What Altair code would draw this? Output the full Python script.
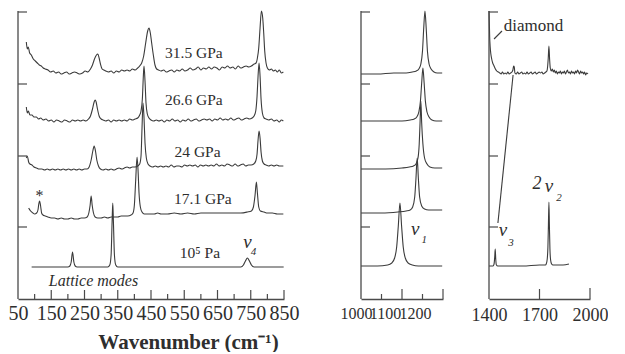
import altair as alt
import pandas as pd

FONT = "Liberation Serif"
INK = "#3b3b3b"
AXC = "#4a4a4a"
TXT = "#2e2e2e"
H = 288  # vertical data units (1 unit = 1 px)

SERIES = ["31.5 GPa", "26.6 GPa", "24 GPa", "17.1 GPa", "1e5 Pa"]
OFFSETS = [226, 178, 131, 84, 32]

# ---------------- panel 1 : 50-850 cm-1 ----------------
W1_A = [75,78,81,85,90,96,102,108,114,120,126,132,140,148,156,164,172,180,188,196,204,212,220,228,236,244,252,260,268,274,280,286,290,294,298,303,308,314,322,330,338,346,354,362,370,378,386,394,402,410,416,422,428,434,440,444,448,452,457,462,467,473,480,488,496,504,512,520,528,536,544,552,560,568,576,584,592,600,608,616,624,632,640,648,656,664,672,680,688,696,704,712,720,728,736,744,752,760,766,770,774,778,782,786,789,792,796,800,806,812,818,824,830,836,842,848]
H1_A = [31,24,26,20,18,14,12,10,8,7,5,4,3,1,2,0,1,-1,0,1,-1,0,1,0,-1,0,2,1,4,8,14,18,19,15,9,4,3,2,1,2,0,2,1,3,2,3,2,4,3,5,7,10,17,30,42,45,40,30,18,8,4,3,2,3,1,2,3,1,3,2,4,2,3,5,3,4,6,3,5,4,6,4,6,5,3,6,5,7,5,6,4,7,5,6,7,6,7,9,10,15,25,45,62,55,40,22,10,5,3,4,2,3,1,3,0,1]

W1_B = [75,78,81,86,92,98,105,112,118,126,134,142,150,158,166,174,182,190,198,206,214,222,230,238,246,254,262,268,274,279,282,285,289,294,300,306,314,322,330,338,346,354,362,370,378,386,394,402,410,416,420,424,427,429,432,435,439,444,450,458,466,474,482,490,498,506,514,522,530,538,546,554,562,570,578,586,594,602,610,618,626,634,642,650,658,666,674,682,690,698,706,714,722,730,738,746,754,760,765,769,772,775,778,781,785,790,796,804,812,820,828,836,842,848]
H1_B = [14,8,10,6,6,4,4,2,3,1,2,0,1,-1,1,0,-1,1,0,-1,1,0,1,0,1,0,2,5,12,19,21,19,12,5,2,1,0,1,-1,1,0,1,0,1,0,2,1,2,3,6,10,22,45,55,40,18,7,3,1,0,1,0,1,-1,1,0,2,0,1,-1,1,0,2,0,1,2,0,1,2,1,2,0,2,1,3,1,2,1,3,1,2,3,1,2,3,2,3,5,10,25,45,58,45,22,8,3,2,1,2,0,1,-1,1,0]

W1_C = [75,78,82,86,92,98,106,114,122,130,138,146,154,162,170,178,186,194,202,210,218,226,234,242,250,258,264,270,275,279,283,287,292,298,306,314,322,330,338,346,354,362,370,378,386,394,402,410,416,420,423,426,429,432,436,441,447,455,463,471,479,487,495,503,511,519,527,535,543,551,559,567,575,583,591,599,607,615,623,631,639,647,655,663,671,679,687,695,703,711,719,727,735,743,751,759,765,769,772,775,778,781,785,790,796,804,812,820,828,836,844,848]
H1_C = [10,12,6,4,3,1,0,-1,-1,-2,-1,-2,-1,-2,-1,-2,-1,-2,-1,-2,-1,-2,-1,-2,-1,-1,1,8,17,22,17,8,2,-1,-2,-1,-2,-1,-2,-1,0,-1,0,1,0,1,1,2,4,12,40,65,50,25,10,4,2,1,2,1,2,1,2,1,3,1,2,2,1,3,2,3,2,3,1,3,2,3,2,3,2,4,2,3,2,4,3,2,4,2,3,4,2,3,3,4,7,14,28,37,30,16,7,4,3,2,3,2,3,2,2,2]

W1_D = [82,88,95,100,106,110,113,115,118,121,125,132,140,150,160,170,180,190,200,210,220,230,240,250,258,263,267,270,273,277,282,290,300,310,320,330,340,350,360,370,380,390,396,400,404,408,411,414,418,423,430,440,450,460,470,480,500,520,540,560,580,600,620,640,660,680,700,720,740,752,758,763,767,770,774,779,790,800,815,830,848]
H1_D = [7,4,2,1,2,5,12,14,9,2,0,-1,-2,-3,-3,-4,-3,-4,-4,-3,-4,-4,-3,-3,-2,2,10,19,10,2,-2,-3,-3,-2,-3,-2,-2,-2,-1,-1,-1,0,2,10,35,58,45,22,8,3,1,1,1,1,2,1,1,2,1,2,1,2,2,2,2,2,2,2,3,4,8,20,33,22,8,4,3,2,2,1,1]

W1_E = [91,200,206,210,214,218,222,228,320,326,330,333,335,337,340,344,350,720,728,734,740,746,752,760,849]
H1_E = [0,0,1,5,15,5,1,0,0,2,12,45,64,45,12,2,0,0,2,6,9,6,2,0,0]

# ---------------- panel 2 : 1000-1200 cm-1 ----------------
W2_A = [1000,1040,1080,1110,1125,1135,1141,1146,1150,1153,1156,1159,1162,1166,1171,1178,1186,1198]
H2_A = [-1,-1,0,0,1,2,4,9,22,45,62,45,22,9,4,1,0,0]
W2_B = [1000,1060,1100,1120,1130,1136,1141,1145,1148,1151,1154,1157,1161,1166,1173,1183,1198]
H2_B = [0,0,0,1,2,4,9,20,38,53,38,20,9,4,1,0,0]
W2_C = [1000,1060,1100,1118,1128,1134,1139,1142,1144,1146,1148,1151,1155,1161,1168,1180,1198]
H2_C = [-1,-1,0,1,2,4,10,24,45,67,45,24,10,4,1,0,0]
W2_D = [1000,1050,1090,1110,1120,1126,1131,1134,1137,1140,1143,1148,1155,1165,1198]
H2_D = [2,2,3,4,5,8,18,36,57,36,18,9,6,5,5]
W2_E = [1000,1040,1065,1075,1082,1087,1091,1095,1099,1103,1108,1115,1125,1140,1198]
H2_E = [1,1,2,4,9,20,41,64,41,20,9,4,2,1,1]

# ---------------- panel 3 : 1400-2000 cm-1 ----------------
W3_A = [1400,1402,1404,1407,1411,1416,1422,1430,1438,1446,1456,1464,1472,1480,1488,1496,1504,1512,1520,1528,1536,1542,1546,1550,1554,1562,1570,1578,1586,1594,1602,1610,1618,1626,1634,1642,1650,1658,1666,1674,1682,1690,1698,1706,1714,1722,1730,1738,1744,1748,1752,1756,1760,1764,1770,1776,1782,1788,1794,1800,1806,1812,1818,1824,1830,1836,1842,1848,1854,1860,1866,1872,1878,1884,1890,1896,1902,1908,1914,1920,1926,1932,1938,1944,1950,1956,1962,1968,1974,1980,1988]
H3_A = [62,50,36,26,19,14,10,7,4,2,1,0,-1,1,-1,0,-1,1,-1,0,1,3,7,6,0,-1,1,-1,0,1,-1,0,-1,1,-1,0,1,-1,0,1,-1,0,1,0,1,-1,0,1,2,6,15,27,14,5,2,4,1,3,0,2,-1,1,0,2,-1,1,0,2,-1,1,3,0,1,-1,2,0,1,-1,2,0,3,1,-1,2,0,1,-1,1,-2,0,-1]
W3_E = [1400,1424,1430,1434,1437,1440,1444,1452,1500,1600,1700,1735,1740,1746,1750,1753,1756,1759,1762,1766,1772,1780,1800,1840,1875]
H3_E = [1,1,3,10,18,8,2,1,1,1,2,2,3,8,20,42,65,40,18,7,3,2,2,2,3]

# guide lines in panel 3 (band shift connector, diamond leader)
GUIDE_ID = ["shift", "shift", "leader", "leader"]
GUIDE_W = [1453, 1543, 1430, 1477]
GUIDE_V = [76, 224, 260, 268]

# axis tick values
LEFT_TICKS = [72, 143, 215, 287]
P1_LABELS = [50, 150, 250, 350, 450, 550, 650, 750, 850]
P1_TICKS_W = [100, 150, 200, 250, 300, 350, 400, 450, 500, 550, 600, 650, 700, 750, 800, 850]
P1_TICKS_L = [5, 9, 5, 9, 5, 9, 5, 9, 5, 9, 5, 9, 5, 9, 5, 9]
P2_LABELS = [1000, 1100, 1200]
P2_TICKS_W = [1050, 1100, 1150, 1200]
P2_TICKS_L = [5, 10, 5, 10]
P3_LABELS = [1400, 1700, 2000]
P3_TICKS_W = [1700, 2000]
P3_TICKS_L = [10, 11]

# annotations
T1_N = [("31.5 GPa", 579, 246, 15.5), ("26.6 GPa", 579, 199, 15.5), ("24 GPa", 590, 147, 15.5),
        ("17.1 GPa", 606, 100, 15.5), ("10\u2075 Pa", 597, 46, 15.5), ("*", 115, 103, 16)]
T1_I = [("Lattice modes", 277, 18, 16), ("\u03bd", 740, 57, 19), ("4", 758, 47, 11)]
T2_N = []
T2_I = [("\u03bd", 1132, 70, 19), ("1", 1154, 59, 11)]
T3_N = [("diamond", 1664, 273, 17)]
T3_I = [("\u03bd", 1483, 69, 19), ("3", 1531, 56, 11), ("2", 1685, 115, 18),
        ("\u03bd", 1756, 113, 19), ("2", 1816, 101, 11)]


def trace_df(items):
    rows = []
    for name, ws, hs in items:
        off = OFFSETS[SERIES.index(name)]
        for w, h in zip(ws, hs):
            rows.append({"s": name, "w": w, "v": h + off})
    return pd.DataFrame(rows)


def text_df(items):
    return pd.DataFrame(items, columns=["t", "w", "v", "fs"])


def panel(traces, dom, rng, width, axis, tick_w, tick_l, tn, ti, guides=None):
    X = alt.X("w:Q", scale=alt.Scale(domain=dom, range=rng, nice=False, zero=False), axis=axis)
    Y = alt.Y("v:Q", scale=alt.Scale(domain=[0, H], nice=False, zero=False), axis=None)
    layers = []
    layers.append(alt.Chart(trace_df(traces)).mark_line(color=INK, strokeWidth=1.1, interpolate="monotone")
                  .encode(x=X, y=Y, detail="s:N"))
    layers.append(alt.Chart(pd.DataFrame({"w": [dom[0]], "v": [0], "v2": [H]}))
                  .mark_rule(color=AXC, strokeWidth=1.3).encode(x=X, y=Y, y2="v2:Q"))
    layers.append(alt.Chart(pd.DataFrame({"w": [dom[0]] * len(LEFT_TICKS), "v": LEFT_TICKS}))
                  .mark_rule(color=AXC, strokeWidth=1.2).encode(x=X, x2=alt.value(rng[0] + 9), y=Y))
    layers.append(alt.Chart(pd.DataFrame({"w": tick_w, "v": [0] * len(tick_w), "v2": tick_l}))
                  .mark_rule(color=AXC, strokeWidth=1.2).encode(x=X, y=Y, y2="v2:Q"))
    if guides is not None:
        layers.append(alt.Chart(guides).mark_line(color=INK, strokeWidth=1.1)
                      .encode(x=X, y=Y, detail="g:N"))
    if tn:
        layers.append(alt.Chart(text_df(tn)).mark_text(font=FONT, color=TXT, align="center", baseline="middle")
                      .encode(x=X, y=Y, text="t:N", size=alt.Size("fs:Q", scale=None, legend=None)))
    if ti:
        layers.append(alt.Chart(text_df(ti)).mark_text(font=FONT, fontStyle="italic", color=TXT,
                                                       align="center", baseline="middle")
                      .encode(x=X, y=Y, text="t:N", size=alt.Size("fs:Q", scale=None, legend=None)))
    return alt.layer(*layers).properties(width=width, height=H)


def xaxis(values, size, pad, **kw):
    return alt.Axis(values=values, format="d", domain=True, domainColor=AXC, domainWidth=1.3,
                    ticks=False, tickSize=0, grid=False, labelFont=FONT, labelFontSize=size,
                    labelColor=TXT, labelPadding=pad, labelOverlap=False, labelFlush=False, **kw)


ax1 = xaxis(P1_LABELS, 20, 4, title="Wavenumber  (cm\u207b\u00b9)", titleFont=FONT, titleFontSize=21,
            titleFontWeight="bold", titleColor=TXT, titleX=180, titleY=32, titleBaseline="top",
            titleAlign="center")
ax2 = xaxis(P2_LABELS, 16, 6, title=None,
            labelOffset={"condition": [{"test": "datum.value == 1100", "value": -17},
                                       {"test": "datum.value == 1200", "value": -28}], "value": -5})
ax3 = xaxis(P3_LABELS, 18, 7, title=None)

p1 = panel([("31.5 GPa", W1_A, H1_A), ("26.6 GPa", W1_B, H1_B), ("24 GPa", W1_C, H1_C),
            ("17.1 GPa", W1_D, H1_D), ("1e5 Pa", W1_E, H1_E)],
           [50, 850], [10, 276], 300, ax1, P1_TICKS_W, P1_TICKS_L, T1_N, T1_I)
p2 = panel([("31.5 GPa", W2_A, H2_A), ("26.6 GPa", W2_B, H2_B), ("24 GPa", W2_C, H2_C),
            ("17.1 GPa", W2_D, H2_D), ("1e5 Pa", W2_E, H2_E)],
           [1000, 1200], [53, 135], 140, ax2, P2_TICKS_W, P2_TICKS_L, T2_N, T2_I)
guides = pd.DataFrame({"g": GUIDE_ID, "w": GUIDE_W, "v": GUIDE_V})
p3 = panel([("31.5 GPa", W3_A, H3_A), ("1e5 Pa", W3_E, H3_E)],
           [1400, 2000], [41, 142], 150, ax3, P3_TICKS_W, P3_TICKS_L, T3_N, T3_I, guides)

chart = (alt.hconcat(p1, p2, p3, spacing=0, bounds="flush")
         .properties(padding=0, background="white")
         .configure_view(stroke=None))

chart.save("out.html", embed_options={"renderer": "svg", "actions": False})
